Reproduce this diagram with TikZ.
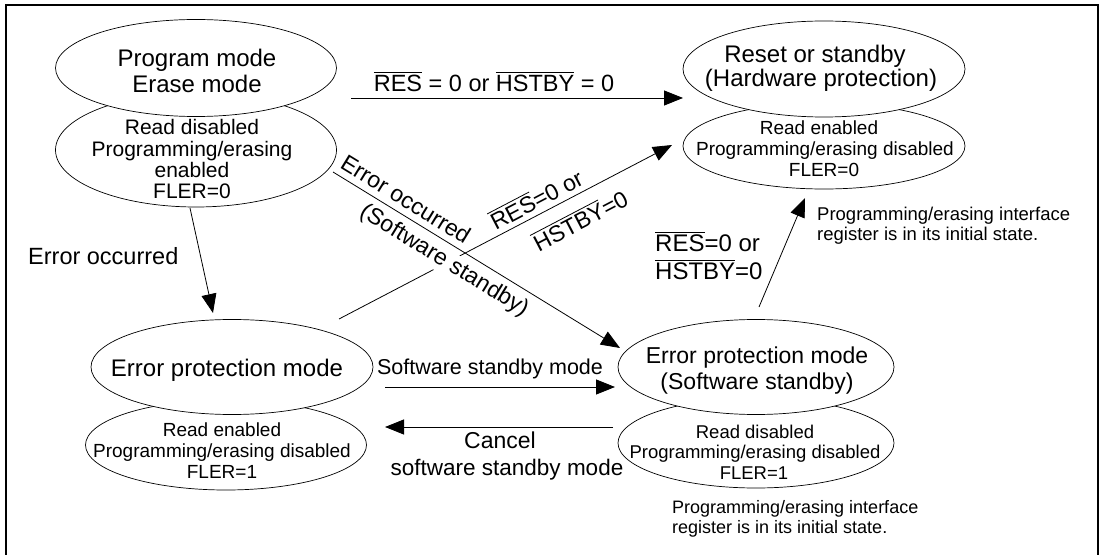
\documentclass[tikz,border=0pt]{standalone}
\usepackage{fontspec}
\setmainfont{Liberation Sans}
\usetikzlibrary{arrows.meta,shapes.geometric}
\newcommand\fsz[1]{\fontsize{#1bp}{#1bp}\selectfont}
\newcommand\ovl[1]{\leavevmode\vbox{\hrule height 0.8pt\kern 2.5pt\hbox{#1}}}
\tikzset{
  ell/.style={ellipse, draw, line width=0.7bp, fill=white, inner sep=0pt},
  tx/.style={anchor=base, inner sep=0pt},
  arr/.style={line width=0.8bp, -{Triangle[length=19bp,width=15bp]}},
}
\begin{document}
\begin{tikzpicture}[x=1bp,y=-1bp]
\useasboundingbox (0,0) rectangle (1102,555);
\clip (0,0) rectangle (1102,555);
\fill[white] (0,0) rectangle (1102,555);
\draw[line width=2.5bp] (6,560) -- (6,5) -- (1098,5) -- (1098,560);

% ellipses
\node[ell, minimum width=281bp, minimum height=114bp] (A2) at (196,150) {};
\node[ell, minimum width=281bp, minimum height=97bp] (A) at (196,68) {};
\node[ell, minimum width=282bp, minimum height=86bp] (B2) at (824,146) {};
\node[ell, minimum width=282bp, minimum height=96bp] (B) at (824,69) {};
\node[ell, minimum width=281bp, minimum height=90bp] (C2) at (226,445) {};
\node[ell, minimum width=282bp, minimum height=95bp] (C) at (232,367) {};
\node[ell, minimum width=276bp, minimum height=90bp] (D2) at (756,443) {};
\node[ell, minimum width=276bp, minimum height=95bp] (D) at (756,367) {};

% ellipse texts
\node[tx, font=\fsz{24}] (tA1) at (197,67) {Program mode};
\node[tx, font=\fsz{24}] (tA2) at (197,93) {Erase mode};
\node[tx, font=\fsz{21}] (tA3) at (192,135) {Read disabled};
\node[tx, font=\fsz{21}] (tA4) at (192,157) {Programming/erasing};
\node[tx, font=\fsz{21}] (tA5) at (192,178) {enabled};
\node[tx, font=\fsz{21}] (tA6) at (192,199) {FLER=0};

\node[tx, font=\fsz{24}] (tB1) at (815,63) {Reset or standby};
\node[tx, font=\fsz{24}] (tB2) at (821,87) {(Hardware protection)};
\node[tx, font=\fsz{19}] (tB3) at (819,135) {Read enabled};
\node[tx, font=\fsz{19}] (tB4) at (825,156) {Programming/erasing disabled};
\node[tx, font=\fsz{19}] (tB5) at (824,177) {FLER=0};

\node[tx, font=\fsz{24}] (tC1) at (227,377) {Error protection mode};
\node[tx, font=\fsz{19}] (tC2) at (222,436) {Read enabled};
\node[tx, font=\fsz{19}] (tC3) at (222,457) {Programming/erasing disabled};
\node[tx, font=\fsz{19}] (tC4) at (222,478) {FLER=1};

\node[tx, font=\fsz{23}] (tD1) at (757,364) {Error protection mode};
\node[tx, font=\fsz{23}] (tD2) at (757,389) {(Software standby)};
\node[tx, font=\fsz{18.5}] (tD3) at (755,438) {Read disabled};
\node[tx, font=\fsz{18.5}] (tD4) at (755,458) {Programming/erasing disabled};
\node[tx, font=\fsz{18.5}] (tD5) at (754,479) {FLER=1};

% notes
\node[tx, anchor=base west, font=\fsz{18.5}] (nB1) at (817,221) {Programming/erasing interface};
\node[tx, anchor=base west, font=\fsz{18.5}] (nB2) at (817,241) {register is in its initial state.};
\node[tx, anchor=base west, font=\fsz{18}] (nD1) at (672,513) {Programming/erasing interface};
\node[tx, anchor=base west, font=\fsz{18}] (nD2) at (672,533) {register is in its initial state.};

% connector end points
\coordinate (ab1) at (351,98);   \coordinate (ab2) at (683,98);
\coordinate (ac1) at (190,208);  \coordinate (ac2) at (213,313);
\coordinate (ad1) at (333,172);  \coordinate (ad2) at (620,348);
\coordinate (cb1) at (339,319);  \coordinate (cb2) at (672,145);
\coordinate (cd1) at (385,387);  \coordinate (cd2) at (615,387);
\coordinate (dc1) at (613,427);  \coordinate (dc2) at (385,427);
\coordinate (db1) at (759,307);  \coordinate (db2) at (805,198);

\draw[arr] (ab1) -- (ab2);
\draw[arr] (ac1) -- (ac2);
\draw[arr] (cb1) -- (cb2);
\draw[arr] (cd1) -- (cd2);
\draw[arr] (dc1) -- (dc2);
\draw[arr] (db1) -- (db2);

% labels
\node[tx, font=\fsz{23.5}] (l1) at (494,92) {\ovl{RES} = 0 or \ovl{HSTBY} = 0};
\node[tx, anchor=base west, font=\fsz{23.5}] (l2) at (28,265) {Error occurred};
\node[font=\fsz{23}, rotate=-31.5, inner sep=0pt] (l3) at (406,199) {Error occurred};
\node[font=\fsz{23}, rotate=-31.5, inner sep=2bp, fill=white] (l4) at (444,261) {(Software standby)};
\node[font=\fsz{23}, rotate=27.6, inner sep=0pt] (l5) at (536,199) {\ovl{RES}=0 or};
\node[font=\fsz{23}, rotate=27.6, inner sep=0pt] (l6) at (580,220) {\ovl{HSTBY}=0};
\node[tx, font=\fsz{21.5}] (l7) at (490,375) {Software standby mode};
\node[tx, font=\fsz{23}] (l8) at (500,448) {Cancel};
\node[tx, font=\fsz{22.5}] (l9) at (507,475) {software standby mode};
\node[tx, anchor=base west, font=\fsz{24}] (l10) at (655,252) {\ovl{RES}=0 or};
\node[tx, anchor=base west, font=\fsz{24}] (l11) at (655,280) {\ovl{HSTBY}=0};

\draw[arr] (ad1) -- (ad2);
\end{tikzpicture}
\end{document}
